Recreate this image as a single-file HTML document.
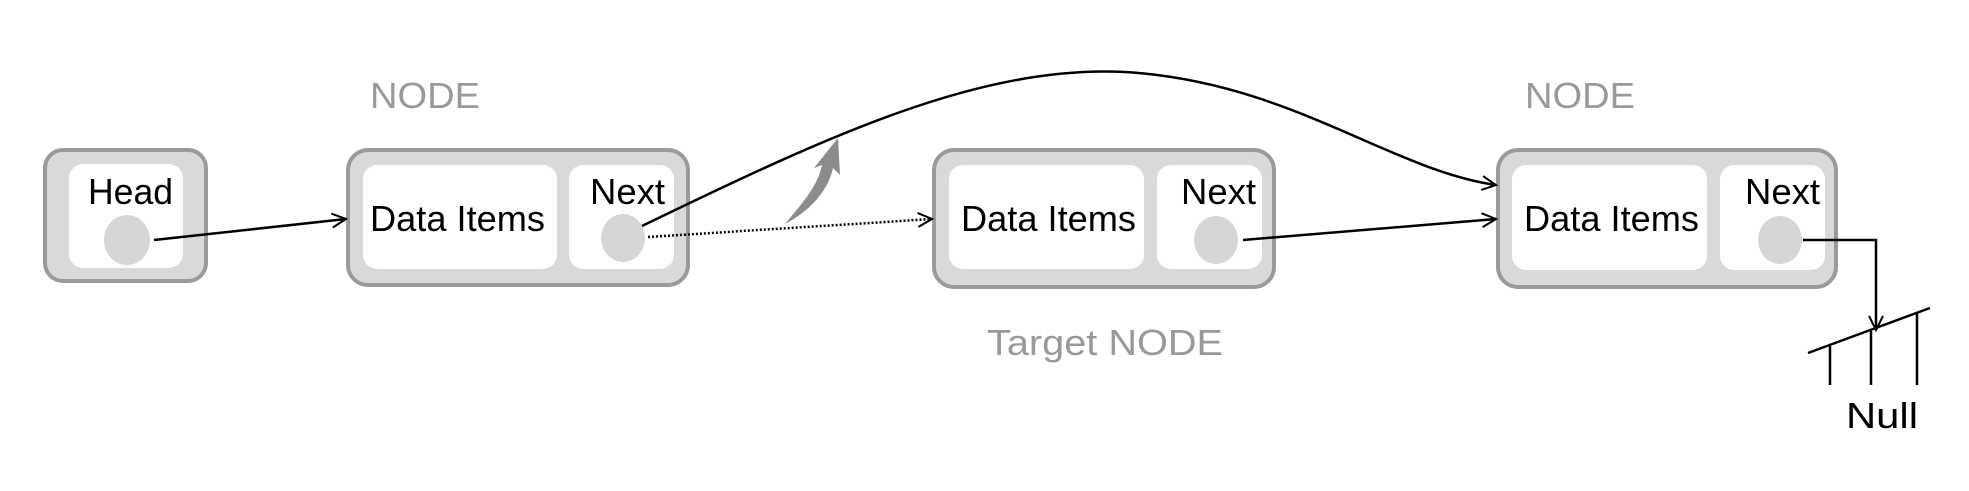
<!DOCTYPE html>
<html><head><style>
body{margin:0;background:#fff}
svg text{font-family:"Liberation Sans",sans-serif}
</style></head><body>
<svg width="1969" height="486" viewBox="0 0 1969 486" xmlns="http://www.w3.org/2000/svg">
<defs>
<marker id="a" markerWidth="20" markerHeight="20" refX="16" refY="8" orient="auto" markerUnits="userSpaceOnUse">
<path d="M2,1 L16,8 L2,15" fill="none" stroke="#000" stroke-width="2"/></marker>
</defs>
<g stroke="#9a9a9a" stroke-width="4" fill="#d9d9d9">
<rect x="45" y="150" width="161" height="131" rx="18"/>
<rect x="348" y="150" width="340" height="135" rx="20"/>
<rect x="934" y="150" width="340" height="137" rx="20"/>
<rect x="1498" y="150" width="338" height="137" rx="20"/>
</g>
<g fill="#fff">
<rect x="69" y="164" width="114" height="104" rx="14"/>
<rect x="363" y="165" width="194" height="104" rx="14"/>
<rect x="569" y="165" width="105" height="104" rx="14"/>
<rect x="949" y="165" width="195" height="104" rx="14"/>
<rect x="1157" y="165" width="105" height="104" rx="14"/>
<rect x="1512" y="165" width="195" height="105" rx="14"/>
<rect x="1720" y="165" width="105" height="105" rx="14"/>
</g>
<g fill="#d6d6d6">
<ellipse cx="127" cy="240" rx="23" ry="25"/>
<ellipse cx="623" cy="238" rx="22" ry="24"/>
<ellipse cx="1216" cy="240" rx="22" ry="24"/>
<ellipse cx="1780" cy="240" rx="22" ry="24"/>
</g>
<g font-size="36" fill="#000" lengthAdjust="spacingAndGlyphs">
<text x="88" y="204" textLength="85" lengthAdjust="spacingAndGlyphs">Head</text>
<text x="370" y="231" textLength="175" lengthAdjust="spacingAndGlyphs">Data Items</text>
<text x="590" y="204" textLength="75" lengthAdjust="spacingAndGlyphs">Next</text>
<text x="961" y="231" textLength="175" lengthAdjust="spacingAndGlyphs">Data Items</text>
<text x="1181" y="204" textLength="75" lengthAdjust="spacingAndGlyphs">Next</text>
<text x="1524" y="231" textLength="175" lengthAdjust="spacingAndGlyphs">Data Items</text>
<text x="1745" y="204" textLength="75" lengthAdjust="spacingAndGlyphs">Next</text>
<text x="1846" y="428" textLength="72" lengthAdjust="spacingAndGlyphs">Null</text>
</g>
<g font-size="36" fill="#999">
<text x="370" y="108" textLength="110" lengthAdjust="spacingAndGlyphs">NODE</text>
<text x="1525" y="108" textLength="110" lengthAdjust="spacingAndGlyphs">NODE</text>
<text x="987" y="355" textLength="236" lengthAdjust="spacingAndGlyphs">Target NODE</text>
</g>
<g fill="none" stroke="#000" stroke-width="2.5">
<line x1="154" y1="240" x2="346" y2="219" marker-end="url(#a)"/>
<line x1="648" y1="237" x2="932" y2="219" stroke-dasharray="2,2" marker-end="url(#a)"/>
<path d="M642,226 C830,135 980,65 1125,72 C1290,82 1390,170 1496,185" marker-end="url(#a)"/>
<line x1="1243" y1="240" x2="1496" y2="219" marker-end="url(#a)"/>
<path d="M1803,240 L1876,240 L1876,330" marker-end="url(#a)"/>
<line x1="1808" y1="353" x2="1930" y2="308"/>
<line x1="1830" y1="346" x2="1830" y2="385"/>
<line x1="1871" y1="331" x2="1871" y2="385"/>
<line x1="1917" y1="313" x2="1917" y2="385"/>
</g>
<path d="M785,224 C805,200 818,185 822,165 L814,168 L838,138 L840,175 L833,168 C828,192 808,212 785,224 Z" fill="#8c8c8c"/>
</svg>
</body></html>
